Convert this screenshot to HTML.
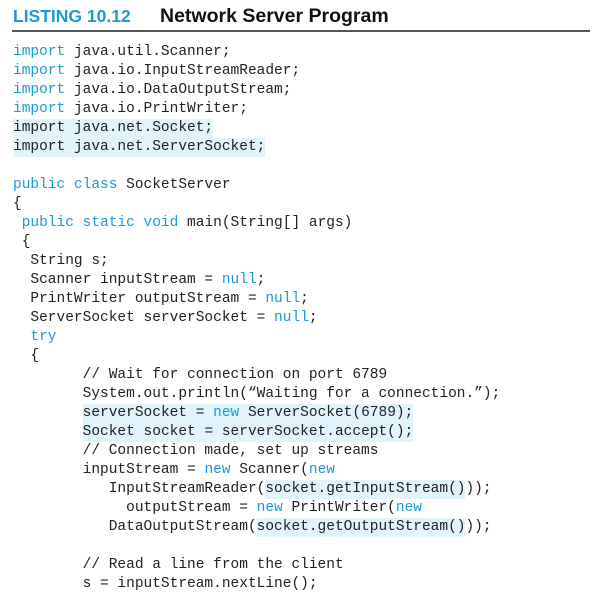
<!DOCTYPE html>
<html><head><meta charset="utf-8"><style>
body{margin:0;background:#fff;width:601px;height:601px;overflow:hidden;position:relative}
.t{position:absolute;top:5px;font-family:"Liberation Sans",sans-serif;font-weight:bold;white-space:nowrap}
.b{color:#1a9ad6;left:13px;font-size:17.5px;top:6px}
.n{left:160px;font-size:19.5px;color:#111}
.rule{position:absolute;left:12px;top:30px;width:578px;height:2px;background:#555}
pre{position:absolute;left:13px;top:43px;margin:0;font-family:"Liberation Mono",monospace;font-size:14.5px;line-height:19px;color:#222}
.k{color:#1a9ad6}
.h{background:#e1f3fb;display:inline-block;line-height:19px}
</style></head><body>
<div class="t b">LISTING 10.12</div>
<div class="t n">Network Server Program</div>
<div class="rule"></div>
<pre><span class="k">import</span> java.util.Scanner;
<span class="k">import</span> java.io.InputStreamReader;
<span class="k">import</span> java.io.DataOutputStream;
<span class="k">import</span> java.io.PrintWriter;
<span class="h">import java.net.Socket;</span>
<span class="h">import java.net.ServerSocket;</span>

<span class="k">public class</span> SocketServer
{
 <span class="k">public static void</span> main(String[] args)
 {
  String s;
  Scanner inputStream = <span class="k">null</span>;
  PrintWriter outputStream = <span class="k">null</span>;
  ServerSocket serverSocket = <span class="k">null</span>;
  <span class="k">try</span>
  {
        // Wait for connection on port 6789
        System.out.println(“Waiting for a connection.”);
        <span class="h">serverSocket = <span class="k">new</span> ServerSocket(6789);</span>
        <span class="h">Socket socket = serverSocket.accept();</span>
        // Connection made, set up streams
        inputStream = <span class="k">new</span> Scanner(<span class="k">new</span>
           InputStreamReader(<span class="h">socket.getInputStream()</span>));
             outputStream = <span class="k">new</span> PrintWriter(<span class="k">new</span>
           DataOutputStream(<span class="h">socket.getOutputStream()</span>));

        // Read a line from the client
        s = inputStream.nextLine();</pre>
</body></html>
